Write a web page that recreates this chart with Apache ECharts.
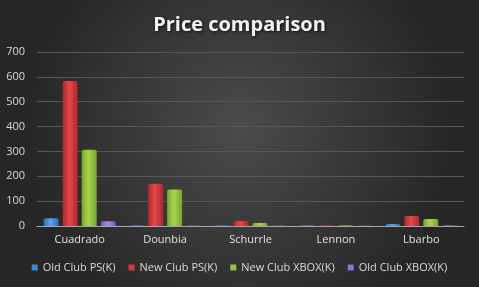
<!DOCTYPE html>
<html><head><meta charset="utf-8">
<script src="https://cdn.jsdelivr.net/npm/echarts@6/dist/echarts.min.js"></script>
<style>html,body{margin:0;padding:0;background:#333;}#c{width:479px;height:287px;}</style>
</head><body><div id="c"></div>
<script>
var categories = ['Cuadrado','Dounbia','Schurrle','Lennon','Lbarbo'];
var oldClubPS = [31, 2, 2, 2, 8];
var newClubPS = [583, 170, 20, 2, 40];
var newClubXBOX = [307, 147, 12, 2, 28];
var oldClubXBOX = [19, 1, 1, 1, 2];
var seriesNames = ['Old Club PS(K)','New Club PS(K)','New Club XBOX(K)','Old Club XBOX(K)'];
var yTicks = {min:0, max:700, interval:100};

function grad(dark, light){
  return new echarts.graphic.LinearGradient(0,0,1,0,[
    {offset:0,color:dark},{offset:0.45,color:light},{offset:1,color:dark}]);
}
var colors = [grad('#2f6bb8','#5aa0ee'), grad('#b0262a','#e04a4a'), grad('#7aa62a','#a8d450'), grad('#7a55c0','#a98be6')];
var legendColors = ['#3f86d8','#d23a3a','#94c23e','#9070d0'];
var data = [oldClubPS,newClubPS,newClubXBOX,oldClubXBOX];

var chart = echarts.init(document.getElementById('c'));
chart.setOption({
  backgroundColor: new echarts.graphic.RadialGradient(0.5,0.45,0.75,[
    {offset:0,color:'#4b4b4b'},{offset:1,color:'#262626'}]),
  animation:false,
  title:{text:'Price comparison', left:'center', top:10,
    textStyle:{color:'#f2f2f2', fontSize:20, fontWeight:'bold', fontFamily:'Open Sans',
      textShadowColor:'rgba(0,0,0,0.7)', textShadowBlur:3, textShadowOffsetX:1, textShadowOffsetY:1}},
  grid:{left:37, right:15, top:52, bottom:61},
  legend:{bottom:9, left:'center', icon:'rect', itemWidth:6, itemHeight:6, itemGap:13,
    textStyle:{color:'#d9d9d9', fontSize:11, fontFamily:'Open Sans'},
    data: seriesNames.map(function(n,i){return {name:n, itemStyle:{color:legendColors[i]}};})},
  xAxis:{type:'category', data:categories,
    axisLine:{lineStyle:{color:'#a6a6a6'}}, axisTick:{show:false},
    axisLabel:{color:'#e0e0e0', fontSize:11, fontFamily:'Open Sans', margin:8}},
  yAxis:{type:'value', min:yTicks.min, max:yTicks.max, interval:yTicks.interval,
    axisLine:{show:false}, axisTick:{show:false},
    axisLabel:{color:'#d9d9d9', fontSize:11, fontFamily:'Open Sans', margin:12},
    splitLine:{lineStyle:{color:'#575757'}}},
  series: seriesNames.map(function(n,i){
    return {name:n, type:'bar', data:data[i], barWidth:15, barGap:'27%', barCategoryGap:'16%',
      itemStyle:{color:colors[i], borderRadius:[2,2,0,0]}};
  })
});
</script></body></html>
